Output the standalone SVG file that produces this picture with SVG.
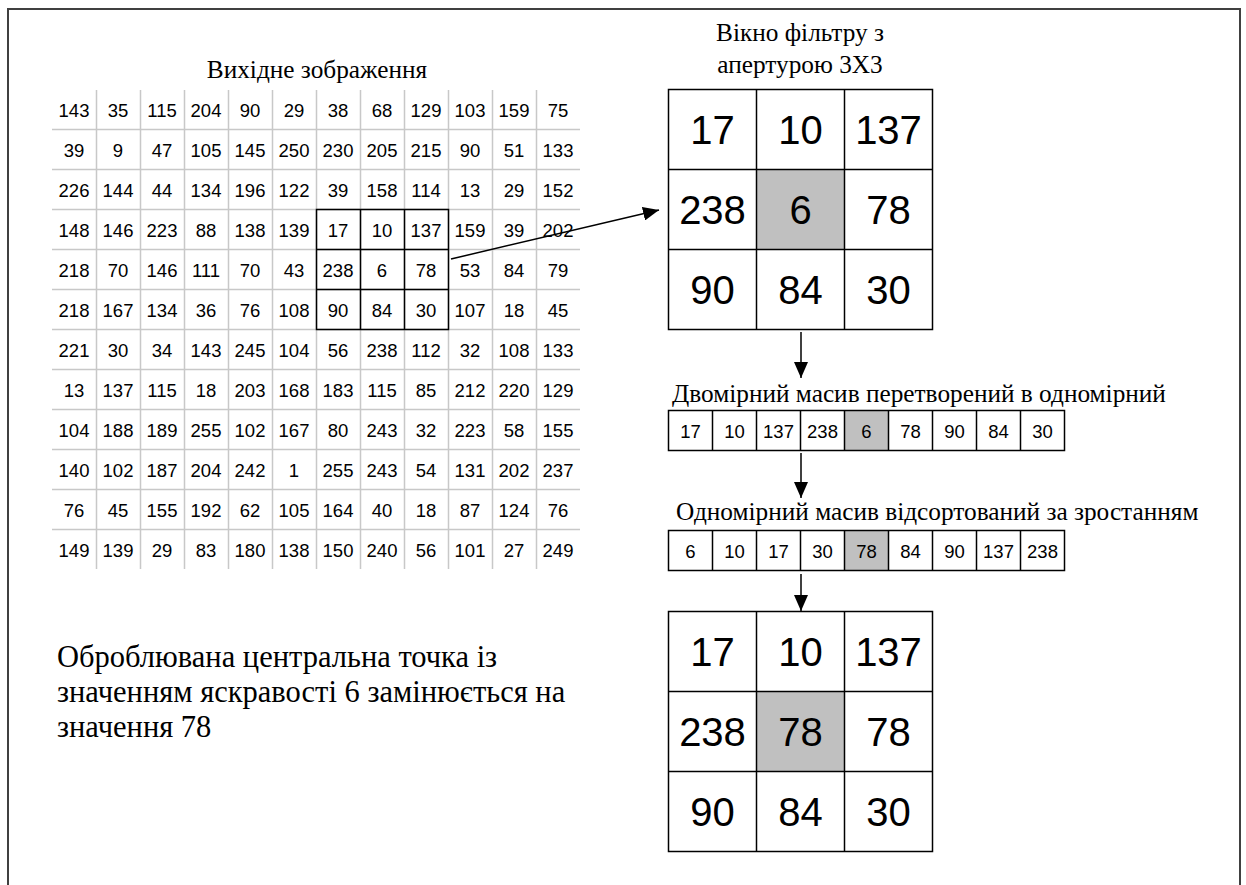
<svg xmlns="http://www.w3.org/2000/svg" width="1246" height="885" viewBox="0 0 1246 885">
<style>
.frame{fill:none;stroke:#404040;stroke-width:2}
.gl{stroke:#c8c8c8;stroke-width:1.5}
.bk{fill:none;stroke:#000;stroke-width:1.5}
.n{font-family:"Liberation Sans",Arial,sans-serif;font-size:18.5px;fill:#000;text-anchor:middle}
.big{font-family:"Liberation Sans",Arial,sans-serif;font-size:40px;fill:#000;text-anchor:middle}
.t{font-family:"Liberation Serif","Times New Roman",serif;font-size:25.3px;fill:#000}
.tc{text-anchor:middle}
.note{font-size:30.5px}
.hl{fill:#c0c0c0}
.conn{stroke:#000;stroke-width:1.5;fill:none}
</style>
<defs>
<marker id="ah" markerUnits="userSpaceOnUse" markerWidth="16" markerHeight="14" refX="16" refY="7" orient="auto">
<path d="M0,0 L16,7 L0,14 z" fill="#000"/>
</marker>
</defs>
<rect width="1246" height="885" fill="#fff"/>
<rect class="frame" x="8" y="9" width="1232" height="890"/>

<g id="source-image">
<text class="t tc" x="317" y="78">Вихідне зображення</text>
<g>
<line class="gl" x1="96.5" y1="90" x2="96.5" y2="569"/>
<line class="gl" x1="140.5" y1="90" x2="140.5" y2="569"/>
<line class="gl" x1="184.5" y1="90" x2="184.5" y2="569"/>
<line class="gl" x1="228.5" y1="90" x2="228.5" y2="569"/>
<line class="gl" x1="272.5" y1="90" x2="272.5" y2="569"/>
<line class="gl" x1="316.5" y1="90" x2="316.5" y2="569"/>
<line class="gl" x1="360.5" y1="90" x2="360.5" y2="569"/>
<line class="gl" x1="404.5" y1="90" x2="404.5" y2="569"/>
<line class="gl" x1="448.5" y1="90" x2="448.5" y2="569"/>
<line class="gl" x1="492.5" y1="90" x2="492.5" y2="569"/>
<line class="gl" x1="536.5" y1="90" x2="536.5" y2="569"/>
<line class="gl" x1="52" y1="129.5" x2="580" y2="129.5"/>
<line class="gl" x1="52" y1="169.5" x2="580" y2="169.5"/>
<line class="gl" x1="52" y1="209.5" x2="580" y2="209.5"/>
<line class="gl" x1="52" y1="249.5" x2="580" y2="249.5"/>
<line class="gl" x1="52" y1="289.5" x2="580" y2="289.5"/>
<line class="gl" x1="52" y1="329.5" x2="580" y2="329.5"/>
<line class="gl" x1="52" y1="369.5" x2="580" y2="369.5"/>
<line class="gl" x1="52" y1="409.5" x2="580" y2="409.5"/>
<line class="gl" x1="52" y1="449.5" x2="580" y2="449.5"/>
<line class="gl" x1="52" y1="489.5" x2="580" y2="489.5"/>
<line class="gl" x1="52" y1="529.5" x2="580" y2="529.5"/>
</g>
<rect class="bk" x="316.5" y="209.5" width="132" height="120"/>
<line class="bk" x1="360.5" y1="209.5" x2="360.5" y2="329.5"/>
<line class="bk" x1="404.5" y1="209.5" x2="404.5" y2="329.5"/>
<line class="bk" x1="316.5" y1="249.5" x2="448.5" y2="249.5"/>
<line class="bk" x1="316.5" y1="289.5" x2="448.5" y2="289.5"/>
<g>
<text class="n" y="116.5"><tspan x="74">143</tspan><tspan x="118">35</tspan><tspan x="162">115</tspan><tspan x="206">204</tspan><tspan x="250">90</tspan><tspan x="294">29</tspan><tspan x="338">38</tspan><tspan x="382">68</tspan><tspan x="426">129</tspan><tspan x="470">103</tspan><tspan x="514">159</tspan><tspan x="558">75</tspan></text>
<text class="n" y="156.5"><tspan x="74">39</tspan><tspan x="118">9</tspan><tspan x="162">47</tspan><tspan x="206">105</tspan><tspan x="250">145</tspan><tspan x="294">250</tspan><tspan x="338">230</tspan><tspan x="382">205</tspan><tspan x="426">215</tspan><tspan x="470">90</tspan><tspan x="514">51</tspan><tspan x="558">133</tspan></text>
<text class="n" y="196.5"><tspan x="74">226</tspan><tspan x="118">144</tspan><tspan x="162">44</tspan><tspan x="206">134</tspan><tspan x="250">196</tspan><tspan x="294">122</tspan><tspan x="338">39</tspan><tspan x="382">158</tspan><tspan x="426">114</tspan><tspan x="470">13</tspan><tspan x="514">29</tspan><tspan x="558">152</tspan></text>
<text class="n" y="236.5"><tspan x="74">148</tspan><tspan x="118">146</tspan><tspan x="162">223</tspan><tspan x="206">88</tspan><tspan x="250">138</tspan><tspan x="294">139</tspan><tspan x="338">17</tspan><tspan x="382">10</tspan><tspan x="426">137</tspan><tspan x="470">159</tspan><tspan x="514">39</tspan><tspan x="558">202</tspan></text>
<text class="n" y="276.5"><tspan x="74">218</tspan><tspan x="118">70</tspan><tspan x="162">146</tspan><tspan x="206">111</tspan><tspan x="250">70</tspan><tspan x="294">43</tspan><tspan x="338">238</tspan><tspan x="382">6</tspan><tspan x="426">78</tspan><tspan x="470">53</tspan><tspan x="514">84</tspan><tspan x="558">79</tspan></text>
<text class="n" y="316.5"><tspan x="74">218</tspan><tspan x="118">167</tspan><tspan x="162">134</tspan><tspan x="206">36</tspan><tspan x="250">76</tspan><tspan x="294">108</tspan><tspan x="338">90</tspan><tspan x="382">84</tspan><tspan x="426">30</tspan><tspan x="470">107</tspan><tspan x="514">18</tspan><tspan x="558">45</tspan></text>
<text class="n" y="356.5"><tspan x="74">221</tspan><tspan x="118">30</tspan><tspan x="162">34</tspan><tspan x="206">143</tspan><tspan x="250">245</tspan><tspan x="294">104</tspan><tspan x="338">56</tspan><tspan x="382">238</tspan><tspan x="426">112</tspan><tspan x="470">32</tspan><tspan x="514">108</tspan><tspan x="558">133</tspan></text>
<text class="n" y="396.5"><tspan x="74">13</tspan><tspan x="118">137</tspan><tspan x="162">115</tspan><tspan x="206">18</tspan><tspan x="250">203</tspan><tspan x="294">168</tspan><tspan x="338">183</tspan><tspan x="382">115</tspan><tspan x="426">85</tspan><tspan x="470">212</tspan><tspan x="514">220</tspan><tspan x="558">129</tspan></text>
<text class="n" y="436.5"><tspan x="74">104</tspan><tspan x="118">188</tspan><tspan x="162">189</tspan><tspan x="206">255</tspan><tspan x="250">102</tspan><tspan x="294">167</tspan><tspan x="338">80</tspan><tspan x="382">243</tspan><tspan x="426">32</tspan><tspan x="470">223</tspan><tspan x="514">58</tspan><tspan x="558">155</tspan></text>
<text class="n" y="476.5"><tspan x="74">140</tspan><tspan x="118">102</tspan><tspan x="162">187</tspan><tspan x="206">204</tspan><tspan x="250">242</tspan><tspan x="294">1</tspan><tspan x="338">255</tspan><tspan x="382">243</tspan><tspan x="426">54</tspan><tspan x="470">131</tspan><tspan x="514">202</tspan><tspan x="558">237</tspan></text>
<text class="n" y="516.5"><tspan x="74">76</tspan><tspan x="118">45</tspan><tspan x="162">155</tspan><tspan x="206">192</tspan><tspan x="250">62</tspan><tspan x="294">105</tspan><tspan x="338">164</tspan><tspan x="382">40</tspan><tspan x="426">18</tspan><tspan x="470">87</tspan><tspan x="514">124</tspan><tspan x="558">76</tspan></text>
<text class="n" y="556.5"><tspan x="74">149</tspan><tspan x="118">139</tspan><tspan x="162">29</tspan><tspan x="206">83</tspan><tspan x="250">180</tspan><tspan x="294">138</tspan><tspan x="338">150</tspan><tspan x="382">240</tspan><tspan x="426">56</tspan><tspan x="470">101</tspan><tspan x="514">27</tspan><tspan x="558">249</tspan></text>
</g>
</g>

<g id="filter-window">
<text class="t tc" x="800" y="41">Вікно фільтру з</text>
<text class="t tc" x="800" y="73">апертурою 3Х3</text>
<rect class="hl" x="756.5" y="169.5" width="88" height="80"/>
<rect class="bk" x="668.5" y="89.5" width="264" height="240"/>
<line class="bk" x1="756.5" y1="89.5" x2="756.5" y2="329.5"/>
<line class="bk" x1="844.5" y1="89.5" x2="844.5" y2="329.5"/>
<line class="bk" x1="668.5" y1="169.5" x2="932.5" y2="169.5"/>
<line class="bk" x1="668.5" y1="249.5" x2="932.5" y2="249.5"/>
<text class="big" y="144"><tspan x="712.5">17</tspan><tspan x="800.5">10</tspan><tspan x="888.5">137</tspan></text>
<text class="big" y="224"><tspan x="712.5">238</tspan><tspan x="800.5">6</tspan><tspan x="888.5">78</tspan></text>
<text class="big" y="304"><tspan x="712.5">90</tspan><tspan x="800.5">84</tspan><tspan x="888.5">30</tspan></text>
</g>

<g id="flat-array">
<text class="t" x="672" y="402">Двомірний масив перетворений в одномірний</text>
<rect class="hl" x="844.5" y="410.5" width="44" height="40"/>
<rect class="bk" x="668.5" y="410.5" width="396" height="40"/>
<path class="bk" d="M712.5,410.5V450.5M756.5,410.5V450.5M800.5,410.5V450.5M844.5,410.5V450.5M888.5,410.5V450.5M932.5,410.5V450.5M976.5,410.5V450.5M1020.5,410.5V450.5"/>
<text class="n" y="437.5"><tspan x="690.5">17</tspan><tspan x="734.5">10</tspan><tspan x="778.5">137</tspan><tspan x="822.5">238</tspan><tspan x="866.5">6</tspan><tspan x="910.5">78</tspan><tspan x="954.5">90</tspan><tspan x="998.5">84</tspan><tspan x="1042.5">30</tspan></text>
</g>

<g id="sorted-array">
<text class="t" x="676" y="520">Одномірний масив відсортований за зростанням</text>
<rect class="hl" x="844.5" y="530.5" width="44" height="40"/>
<rect class="bk" x="668.5" y="530.5" width="396" height="40"/>
<path class="bk" d="M712.5,530.5V570.5M756.5,530.5V570.5M800.5,530.5V570.5M844.5,530.5V570.5M888.5,530.5V570.5M932.5,530.5V570.5M976.5,530.5V570.5M1020.5,530.5V570.5"/>
<text class="n" y="557.5"><tspan x="690.5">6</tspan><tspan x="734.5">10</tspan><tspan x="778.5">17</tspan><tspan x="822.5">30</tspan><tspan x="866.5">78</tspan><tspan x="910.5">84</tspan><tspan x="954.5">90</tspan><tspan x="998.5">137</tspan><tspan x="1042.5">238</tspan></text>
</g>

<g id="result-window">
<rect class="hl" x="756.5" y="691.5" width="88" height="80"/>
<rect class="bk" x="668.5" y="611.5" width="264" height="240"/>
<line class="bk" x1="756.5" y1="611.5" x2="756.5" y2="851.5"/>
<line class="bk" x1="844.5" y1="611.5" x2="844.5" y2="851.5"/>
<line class="bk" x1="668.5" y1="691.5" x2="932.5" y2="691.5"/>
<line class="bk" x1="668.5" y1="771.5" x2="932.5" y2="771.5"/>
<text class="big" y="666"><tspan x="712.5">17</tspan><tspan x="800.5">10</tspan><tspan x="888.5">137</tspan></text>
<text class="big" y="746"><tspan x="712.5">238</tspan><tspan x="800.5">78</tspan><tspan x="888.5">78</tspan></text>
<text class="big" y="826"><tspan x="712.5">90</tspan><tspan x="800.5">84</tspan><tspan x="888.5">30</tspan></text>
</g>

<g id="note">
<text class="t note" x="57" y="667">Оброблювана центральна точка із</text>
<text class="t note" x="57" y="702">значенням яскравості 6 замінюється на</text>
<text class="t note" x="57" y="737">значення 78</text>
</g>

<g id="connectors">
<line class="conn" x1="451" y1="259" x2="659" y2="210" marker-end="url(#ah)"/>
<line class="conn" x1="801" y1="332" x2="801" y2="378" marker-end="url(#ah)"/>
<line class="conn" x1="801" y1="453" x2="801" y2="498" marker-end="url(#ah)"/>
<line class="conn" x1="801" y1="574" x2="801" y2="611" marker-end="url(#ah)"/>
</g>
</svg>
